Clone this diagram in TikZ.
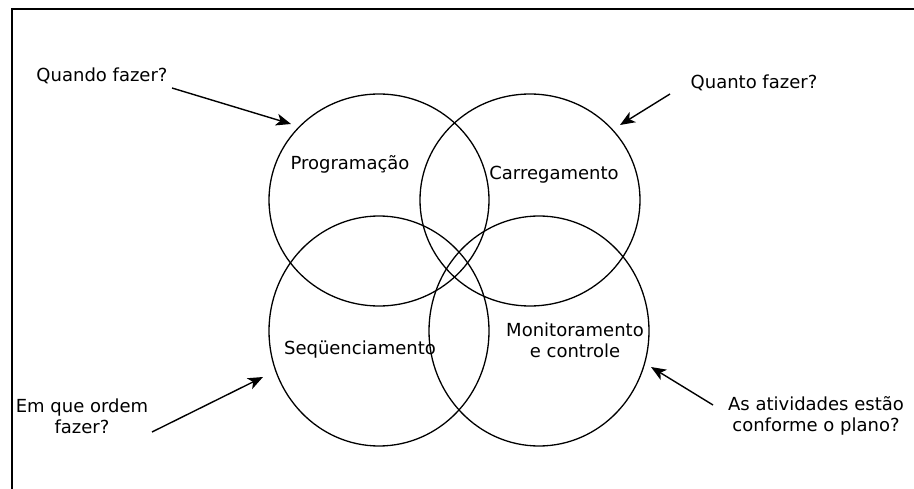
\documentclass[tikz,border=0pt]{standalone}
\usepackage{fontspec}
\setmainfont{DejaVu Sans}
\usetikzlibrary{shapes.geometric,arrows.meta}
\begin{document}
\begin{tikzpicture}[x=1pt,y=-1pt,
  ring/.style={draw,ellipse,line width=1.3pt,inner sep=0pt,
    minimum width=220pt,minimum height=212pt},
  lowring/.style={ring,minimum height=230pt},
  lbl/.style={font=\fontsize{18}{21}\selectfont,align=center,inner sep=1pt},
  ask/.style={line width=1.4pt,-{Stealth[length=15pt,width=12pt,inset=4pt]}},
  frame/.style={line width=2.4pt}]
  \useasboundingbox (0,0) rectangle (914,489);
  % partial frame: top and left edges
  \draw[frame] (12,489) -- (12,9) -- (914,9);
  % four overlapping rings
  \node[ring] (prog) at (379,200) {};
  \node[ring] (carr) at (530,200) {};
  \node[lowring] (seq) at (379,331) {};
  \node[lowring] (mon) at (539,331) {};
  % ring labels
  \node[lbl] (tprog) at (350,164) {Programação};
  \node[lbl] (tcarr) at (554,175) {Carregamento};
  \node[lbl] (tseq)  at (360,350) {Seqüenciamento};
  \node[lbl] (tmon)  at (575,340) {Monitoramento\\e controle};
  % questions
  \node[lbl] (qq1) at (102,76) {Quando fazer?};
  \node[lbl] (qq2) at (754,83) {Quanto fazer?};
  \node[lbl] (qq3) at (82,416) {Em que ordem\\fazer?};
  \node[lbl] (qq4) at (816,416) {As atividades estão\\conforme o plano?};
  % arrow tips near the rings
  \coordinate (p1) at (291,124);
  \coordinate (p2) at (620,125);
  \coordinate (p3) at (263,377);
  \coordinate (p4) at (651,367);
  \coordinate (s1) at (172,88);
  \coordinate (s2) at (670,94);
  \coordinate (s3) at (152,432);
  \coordinate (s4) at (713,405);
  \draw[ask] (s1) -- (p1);
  \draw[ask] (s2) -- (p2);
  \draw[ask] (s3) -- (p3);
  \draw[ask] (s4) -- (p4);
\end{tikzpicture}
\end{document}
